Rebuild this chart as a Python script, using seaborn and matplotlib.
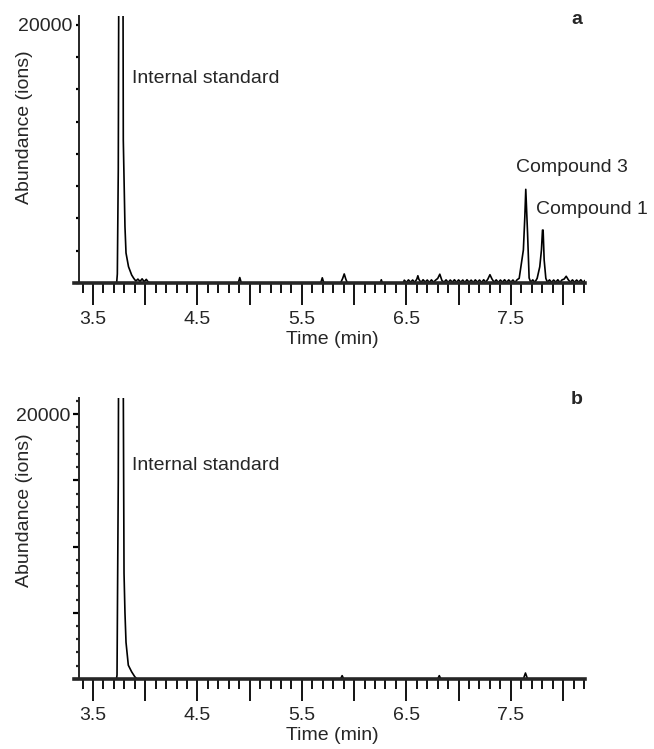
import pandas as pd
import matplotlib
matplotlib.use("Agg")
import matplotlib.pyplot as plt
import matplotlib.ticker as ticker
import seaborn as sns

# 色谱图数据（时间 min, 丰度 ions）
time_a = [3.36, 3.72, 3.727, 3.733, 3.742, 3.749, 3.765, 3.78, 3.787, 3.79, 3.80, 3.806,
          3.816, 3.84, 3.87, 3.89, 3.91, 3.93, 3.95, 3.97, 3.99, 4.01, 4.03, 4.05,
          4.89, 4.905, 4.92, 5.68, 5.695, 5.71, 5.87, 5.89, 5.905, 5.92, 5.935,
          6.25, 6.26, 6.27, 6.47, 6.48,
          6.50, 6.52, 6.54, 6.56, 6.58, 6.60, 6.61, 6.62, 6.64, 6.66, 6.68, 6.70,
          6.72, 6.74, 6.76, 6.78, 6.80, 6.82, 6.84, 6.86, 6.88, 6.90, 6.92, 6.94,
          6.96, 6.98, 7.00, 7.02, 7.04, 7.06, 7.08, 7.10, 7.12, 7.14, 7.16, 7.18,
          7.20, 7.22, 7.24, 7.26, 7.28, 7.30, 7.32, 7.34, 7.36, 7.38, 7.40, 7.42,
          7.44, 7.46, 7.48, 7.50, 7.52, 7.54, 7.56, 7.58, 7.62, 7.634, 7.643, 7.66,
          7.675, 7.69, 7.71, 7.73, 7.752, 7.777, 7.793, 7.803, 7.809, 7.819, 7.835,
          7.85, 7.87, 7.89, 7.91, 7.93, 7.95, 7.97, 7.99, 8.01, 8.03, 8.05, 8.07,
          8.09, 8.11, 8.13, 8.15, 8.17, 8.19, 8.21]
abund_a = [0, 0, 60, 700, 8760, 30000, 90000, 40000, 24000, 11090, 6690, 4365,
           2325, 1260, 620, 360, 150, 300, 120, 320, 100, 280, 60, 0,
           0, 420, 0, 0, 400, 0, 0, 350, 700, 300, 0,
           0, 250, 0, 0, 220,
           40, 240, 60, 230, 50, 300, 560, 280, 40, 250, 70, 230,
           40, 240, 60, 220, 350, 680, 200, 60, 240, 40, 230, 60,
           250, 50, 240, 60, 230, 40, 250, 60, 220, 50, 240, 60,
           230, 40, 250, 60, 300, 640, 300, 60, 240, 40, 230, 60,
           250, 50, 240, 60, 230, 40, 250, 360, 2560, 5140, 7260, 3875,
           390, 60, 240, 50, 360, 1260, 2560, 4100, 4100, 1780, 360,
           60, 240, 50, 230, 60, 250, 40, 240, 300, 520, 250, 60,
           240, 50, 230, 60, 250, 40, 200]

time_b = [3.36, 3.725, 3.73, 3.735, 3.742, 3.75, 3.765, 3.78, 3.79, 3.797, 3.806,
          3.816, 3.838, 3.87, 3.90, 3.92, 5.87, 5.885, 5.90, 6.80, 6.815, 6.83,
          7.62, 7.64, 7.66, 8.21]
abund_b = [0, 0, 300, 6500, 15000, 40000, 90000, 40000, 22000, 7980, 5000,
           2770, 1040, 540, 170, 0, 0, 250, 0, 0, 250, 0,
           0, 450, 0, 0]

x_major = [3.5, 4.0, 4.5, 5.0, 5.5, 6.0, 6.5, 7.0, 7.5, 8.0]
x_labeled = [3.5, 4.5, 5.5, 6.5, 7.5]

df_a = pd.DataFrame({'Time': time_a, 'Abundance': abund_a})
df_b = pd.DataFrame({'Time': time_b, 'Abundance': abund_b})

sns.set_theme(style="ticks")
plt.rcParams['font.family'] = ['Liberation Sans', 'DejaVu Sans']
FS = 14

fig = plt.figure(figsize=(6.54, 7.49), dpi=100)
ax_a = fig.add_axes([0.1208, 0.6222, 0.7737, 0.3565])
ax_b = fig.add_axes([0.1208, 0.0935, 0.7737, 0.3755])

xlim = (3.366, 8.21)


def style_axis(ax, ytop):
    ax.set_xlim(*xlim)
    ax.set_ylim(0, ytop)
    for s in ['top', 'right']:
        ax.spines[s].set_visible(False)
    ax.spines['left'].set_linewidth(1.4)
    ax.spines['bottom'].set_linewidth(2.6)
    ax.spines['bottom'].set_bounds(xlim[0] - 0.045, xlim[1])
    ax.xaxis.set_major_locator(ticker.FixedLocator(x_major))
    ax.xaxis.set_minor_locator(ticker.MultipleLocator(0.1))
    ax.xaxis.set_major_formatter(ticker.FuncFormatter(
        lambda v, p: f'{v:.1f}' if any(abs(v - l) < 1e-6 for l in x_labeled) else ''))
    ax.tick_params(axis='x', which='major', length=16, width=1.3, pad=4,
                   labelsize=FS, color='black')
    ax.tick_params(axis='x', which='minor', length=7.5, width=1.3, color='black')
    ax.yaxis.set_major_formatter(ticker.FuncFormatter(
        lambda v, p: '20000' if abs(v - 20000) < 1e-6 else ''))
    ax.tick_params(axis='y', labelsize=FS, pad=2, color='black')
    ax.set_xlabel('Time (min)', fontsize=FS, labelpad=2)
    ax.set_ylabel('Abundance (ions)', fontsize=FS)


# --- 面板 a ---
sns.lineplot(data=df_a, x='Time', y='Abundance', estimator=None, sort=False,
             color='black', linewidth=1.2, ax=ax_a)
style_axis(ax_a, 20700)
ax_a.yaxis.set_major_locator(ticker.MultipleLocator(2500))
ax_a.tick_params(axis='y', which='major', length=2.5, width=1.6)
ax_a.yaxis.set_label_coords(-0.091, 0.584)
ax_a.text(3.873, 15890, 'Internal standard', fontsize=FS, ha='left', va='center')
ax_a.text(7.554, 8915, 'Compound 3', fontsize=FS, ha='left', va='center')
ax_a.text(7.739, 5660, 'Compound 1', fontsize=FS, ha='left', va='center')
ax_a.text(0.984, 0.985, 'a', transform=ax_a.transAxes, fontsize=FS,
          fontweight='bold', ha='center', va='center')

# --- 面板 b ---
sns.lineplot(data=df_b, x='Time', y='Abundance', estimator=None, sort=False,
             color='black', linewidth=1.2, ax=ax_b)
style_axis(ax_b, 21240)
ax_b.yaxis.set_major_locator(ticker.MultipleLocator(5000))
ax_b.yaxis.set_minor_locator(ticker.MultipleLocator(1000))
ax_b.tick_params(axis='y', which='major', length=4, width=1.6)
ax_b.tick_params(axis='y', which='minor', length=2.5, width=1.6, left=True)
ax_b.yaxis.set_label_coords(-0.091, 0.60)
ax_b.text(3.873, 16130, 'Internal standard', fontsize=FS, ha='left', va='center')
ax_b.text(0.984, 0.993, 'b', transform=ax_b.transAxes, fontsize=FS,
          fontweight='bold', ha='center', va='center')

fig.savefig('out.png', dpi=100)
